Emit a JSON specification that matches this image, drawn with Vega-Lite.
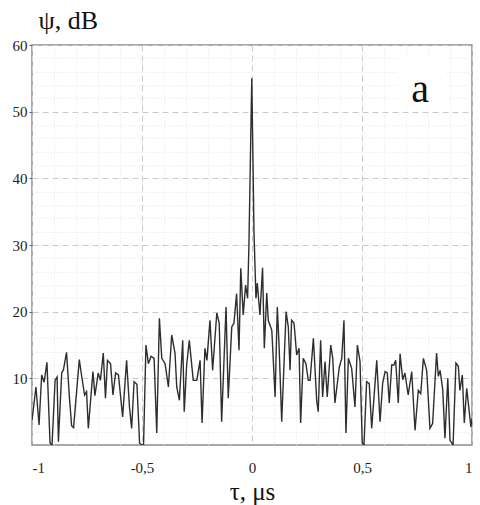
{
  "$schema": "https://vega.github.io/schema/vega-lite/v6.json",
  "description": "Correlation function psi(tau), panel a",
  "width": 440,
  "height": 400,
  "autosize": "none",
  "padding": {"left": 32, "top": 45, "right": 8, "bottom": 60},
  "background": "white",
  "config": {
    "view": {"stroke": "#8c8c8c", "strokeWidth": 1.5},
    "font": "Liberation Serif"
  },
  "datasets": {
    "psi": [
      {"t": -1.0, "psi": 3.7}, {"t": -0.982, "psi": 8.7}, {"t": -0.968, "psi": 3.0}, {"t": -0.956, "psi": 10.5},
      {"t": -0.945, "psi": 9.4}, {"t": -0.932, "psi": 12.4}, {"t": -0.918, "psi": 0.3}, {"t": -0.909, "psi": 0.0},
      {"t": -0.895, "psi": 9.7}, {"t": -0.886, "psi": 10.2}, {"t": -0.88, "psi": 0.5}, {"t": -0.865, "psi": 10.8},
      {"t": -0.857, "psi": 11.3}, {"t": -0.843, "psi": 13.9}, {"t": -0.83, "psi": 7.2}, {"t": -0.82, "psi": 2.9},
      {"t": -0.811, "psi": 2.6}, {"t": -0.785, "psi": 12.8}, {"t": -0.775, "psi": 10.5}, {"t": -0.761, "psi": 7.5},
      {"t": -0.752, "psi": 8.0}, {"t": -0.744, "psi": 2.5}, {"t": -0.723, "psi": 11.0}, {"t": -0.714, "psi": 7.4},
      {"t": -0.699, "psi": 10.8}, {"t": -0.689, "psi": 9.7}, {"t": -0.676, "psi": 13.8}, {"t": -0.666, "psi": 7.0},
      {"t": -0.657, "psi": 12.7}, {"t": -0.643, "psi": 12.2}, {"t": -0.632, "psi": 7.5}, {"t": -0.62, "psi": 10.8},
      {"t": -0.607, "psi": 10.5}, {"t": -0.588, "psi": 4.2}, {"t": -0.57, "psi": 12.7}, {"t": -0.557, "psi": 5.7},
      {"t": -0.547, "psi": 2.5}, {"t": -0.536, "psi": 9.5}, {"t": -0.523, "psi": 9.1}, {"t": -0.511, "psi": 0.3},
      {"t": -0.502, "psi": 0.0}, {"t": -0.493, "psi": 0.0}, {"t": -0.482, "psi": 15.0}, {"t": -0.471, "psi": 12.2},
      {"t": -0.459, "psi": 13.3}, {"t": -0.445, "psi": 13.0}, {"t": -0.433, "psi": 1.8}, {"t": -0.421, "psi": 19.0},
      {"t": -0.41, "psi": 13.0}, {"t": -0.395, "psi": 12.2}, {"t": -0.38, "psi": 8.7}, {"t": -0.365, "psi": 16.5},
      {"t": -0.35, "psi": 13.8}, {"t": -0.342, "psi": 8.7}, {"t": -0.33, "psi": 6.7}, {"t": -0.315, "psi": 15.7},
      {"t": -0.308, "psi": 5.0}, {"t": -0.297, "psi": 12.0}, {"t": -0.285, "psi": 15.7}, {"t": -0.267, "psi": 9.7},
      {"t": -0.251, "psi": 9.7}, {"t": -0.236, "psi": 12.7}, {"t": -0.227, "psi": 3.3}, {"t": -0.214, "psi": 14.5},
      {"t": -0.205, "psi": 12.7}, {"t": -0.191, "psi": 18.7}, {"t": -0.179, "psi": 11.2}, {"t": -0.16, "psi": 19.8},
      {"t": -0.149, "psi": 18.3}, {"t": -0.138, "psi": 3.5}, {"t": -0.118, "psi": 20.7}, {"t": -0.108, "psi": 7.0},
      {"t": -0.092, "psi": 17.7}, {"t": -0.082, "psi": 18.3}, {"t": -0.07, "psi": 22.7}, {"t": -0.059, "psi": 14.2},
      {"t": -0.051, "psi": 26.5}, {"t": -0.04, "psi": 19.5}, {"t": -0.029, "psi": 24.0}, {"t": -0.02, "psi": 22.0},
      {"t": -0.014, "psi": 30.0}, {"t": -0.001, "psi": 55.0}, {"t": 0.009, "psi": 32.0}, {"t": 0.018, "psi": 22.0},
      {"t": 0.024, "psi": 24.3}, {"t": 0.036, "psi": 19.5}, {"t": 0.048, "psi": 26.6}, {"t": 0.056, "psi": 14.5},
      {"t": 0.067, "psi": 22.8}, {"t": 0.074, "psi": 18.7}, {"t": 0.09, "psi": 17.2}, {"t": 0.105, "psi": 7.2},
      {"t": 0.115, "psi": 20.7}, {"t": 0.123, "psi": 15.0}, {"t": 0.135, "psi": 3.5}, {"t": 0.155, "psi": 20.0},
      {"t": 0.165, "psi": 17.7}, {"t": 0.173, "psi": 11.2}, {"t": 0.18, "psi": 18.7}, {"t": 0.191, "psi": 18.3},
      {"t": 0.203, "psi": 13.5}, {"t": 0.214, "psi": 14.5}, {"t": 0.221, "psi": 3.3}, {"t": 0.233, "psi": 13.0},
      {"t": 0.245, "psi": 12.2}, {"t": 0.256, "psi": 9.7}, {"t": 0.264, "psi": 9.7}, {"t": 0.279, "psi": 16.0},
      {"t": 0.294, "psi": 6.7}, {"t": 0.301, "psi": 5.0}, {"t": 0.312, "psi": 15.7}, {"t": 0.321, "psi": 7.2},
      {"t": 0.332, "psi": 12.5}, {"t": 0.342, "psi": 7.2}, {"t": 0.358, "psi": 15.0}, {"t": 0.367, "psi": 13.0},
      {"t": 0.377, "psi": 6.3}, {"t": 0.397, "psi": 11.7}, {"t": 0.408, "psi": 13.0}, {"t": 0.418, "psi": 18.7},
      {"t": 0.427, "psi": 1.8}, {"t": 0.438, "psi": 13.0}, {"t": 0.453, "psi": 11.5}, {"t": 0.468, "psi": 5.7},
      {"t": 0.479, "psi": 15.0}, {"t": 0.491, "psi": 12.5}, {"t": 0.501, "psi": 0.3}, {"t": 0.509, "psi": 0.0},
      {"t": 0.521, "psi": 9.5}, {"t": 0.533, "psi": 9.2}, {"t": 0.544, "psi": 2.5}, {"t": 0.567, "psi": 12.7},
      {"t": 0.582, "psi": 3.5}, {"t": 0.594, "psi": 9.3}, {"t": 0.605, "psi": 11.0}, {"t": 0.615, "psi": 10.8},
      {"t": 0.624, "psi": 6.3}, {"t": 0.635, "psi": 12.0}, {"t": 0.645, "psi": 12.0}, {"t": 0.653, "psi": 12.7},
      {"t": 0.665, "psi": 6.3}, {"t": 0.673, "psi": 13.7}, {"t": 0.685, "psi": 9.8}, {"t": 0.695, "psi": 10.8},
      {"t": 0.71, "psi": 7.5}, {"t": 0.726, "psi": 11.0}, {"t": 0.741, "psi": 2.2}, {"t": 0.756, "psi": 8.2},
      {"t": 0.767, "psi": 7.7}, {"t": 0.779, "psi": 13.0}, {"t": 0.794, "psi": 11.2}, {"t": 0.809, "psi": 2.5},
      {"t": 0.821, "psi": 3.2}, {"t": 0.839, "psi": 13.8}, {"t": 0.847, "psi": 10.3}, {"t": 0.855, "psi": 11.2},
      {"t": 0.867, "psi": 8.3}, {"t": 0.877, "psi": 1.0}, {"t": 0.89, "psi": 10.0}, {"t": 0.9, "psi": 0.7},
      {"t": 0.914, "psi": 0.0}, {"t": 0.927, "psi": 12.3}, {"t": 0.938, "psi": 11.8}, {"t": 0.945, "psi": 8.2},
      {"t": 0.956, "psi": 10.5}, {"t": 0.965, "psi": 3.3}, {"t": 0.976, "psi": 8.5}, {"t": 0.995, "psi": 2.7},
      {"t": 1.0, "psi": 4.0}
    ],
    "box": [{"x1": 0.66, "x2": 0.88, "y1": 50.5, "y2": 58.3}],
    "label": [{"t": 0.764, "psi": 53.2, "text": "a"}]
  },
  "layer": [
    {
      "data": {"name": "box"},
      "mark": {"type": "rect", "fill": "white"},
      "encoding": {
        "x": {
          "field": "x1", "type": "quantitative",
          "scale": {"domain": [-1, 1], "nice": false, "zero": false},
          "axis": {
            "orient": "bottom", "title": null, "labels": false, "ticks": false, "domain": false,
            "grid": true, "gridColor": "#e4e4e4", "gridDash": [1, 2], "gridWidth": 1,
            "values": [-0.9, -0.8, -0.7, -0.6, -0.4, -0.3, -0.2, -0.1, 0.1, 0.2, 0.3, 0.4, 0.6, 0.7, 0.8, 0.9]
          }
        },
        "x2": {"field": "x2"},
        "y": {
          "field": "y1", "type": "quantitative",
          "scale": {"domain": [0, 60], "nice": false},
          "axis": {
            "orient": "left", "title": null, "labels": false, "ticks": false, "domain": false,
            "grid": true, "gridColor": "#e4e4e4", "gridDash": [1, 2], "gridWidth": 1,
            "values": [2, 4, 6, 8, 12, 14, 16, 18, 22, 24, 26, 28, 32, 34, 36, 38, 42, 44, 46, 48, 52, 54, 56, 58]
          }
        },
        "y2": {"field": "y2"}
      }
    },
    {
      "data": {"name": "psi"},
      "mark": {"type": "line", "color": "#2e2e2e", "strokeWidth": 1.4, "clip": true},
      "encoding": {
        "x": {
          "field": "t", "type": "quantitative",
          "scale": {"domain": [-1, 1], "nice": false, "zero": false},
          "axis": {
            "orient": "bottom", "title": "τ, μs", "values": [-1, -0.5, 0, 0.5, 1],
            "labelExpr": "replace(replace(format(datum.value, '.1~f'), '.', ','), '\u2212', '-')",
            "labelFont": "Liberation Serif", "labelFontSize": 15, "labelColor": "#222222",
            "labelPadding": 15, "ticks": false, "domain": false,
            "grid": true, "gridColor": "#cacaca", "gridDash": [6, 4], "gridWidth": 1,
            "titleFont": "Liberation Serif", "titleFontSize": 25, "titleFontWeight": "normal",
            "titleColor": "#111111", "titlePadding": 4
          }
        },
        "y": {
          "field": "psi", "type": "quantitative",
          "scale": {"domain": [0, 60], "nice": false},
          "axis": {
            "orient": "left", "values": [10, 20, 30, 40, 50, 60],
            "labelFont": "Liberation Serif", "labelFontSize": 15, "labelColor": "#222222",
            "labelPadding": 2, "tickSize": 3, "tickColor": "#666666", "domain": false,
            "grid": true, "gridColor": "#cacaca", "gridDash": [6, 4], "gridWidth": 1,
            "title": "ψ, dB", "titleAngle": 0, "titleAlign": "left", "titleBaseline": "alphabetic",
            "titleX": 6, "titleY": -17,
            "titleFont": "Liberation Serif", "titleFontSize": 26, "titleFontWeight": "normal",
            "titleColor": "#111111"
          }
        }
      }
    },
    {
      "data": {"name": "label"},
      "mark": {"type": "text", "font": "Liberation Serif", "fontSize": 40, "color": "#111111", "baseline": "middle", "align": "center"},
      "encoding": {
        "x": {"field": "t", "type": "quantitative", "axis": null},
        "y": {"field": "psi", "type": "quantitative", "axis": null},
        "text": {"field": "text"}
      }
    }
  ],
  "resolve": {"axis": {"x": "independent", "y": "independent"}}
}
